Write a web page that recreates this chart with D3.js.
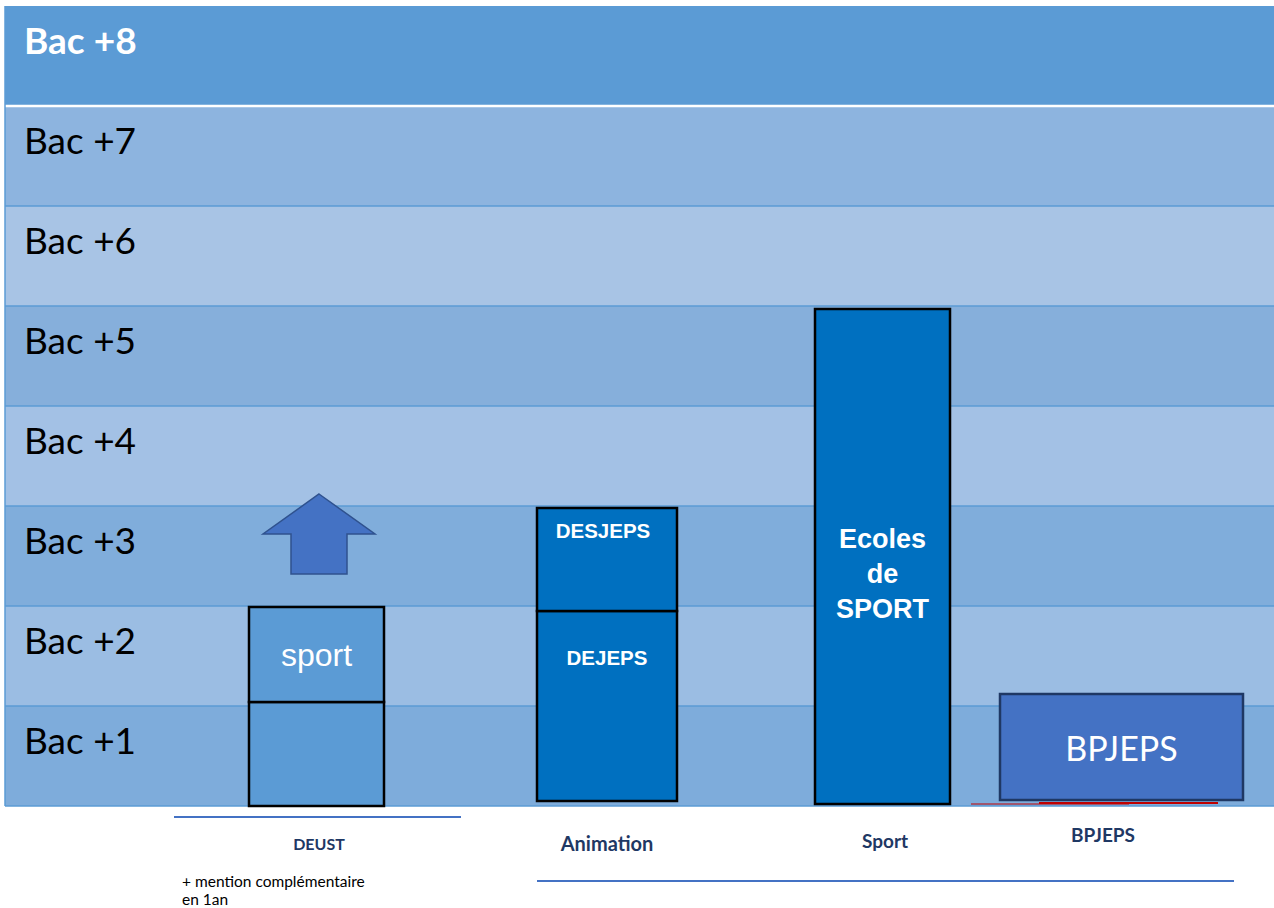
<!DOCTYPE html>
<html>
<head>
<meta charset="utf-8">
<script src="https://cdn.jsdelivr.net/npm/d3@7"></script>
<style>
  body { margin: 0; background: #fff; }
  svg { display: block; }
</style>
</head>
<body>
<svg id="chart" width="1274" height="908"></svg>
<script>
// levels shown as table rows, top to bottom
const levels = ['Bac +8', 'Bac +7', 'Bac +6', 'Bac +5', 'Bac +4', 'Bac +3', 'Bac +2', 'Bac +1']
const rowColors = ['#5b9bd5', '#8db4df', '#a8c4e5', '#86afdb', '#a3c1e5', '#80addb', '#9bbde3', '#7eacdb']

// blocks: [from level, to level, text]
const deustBlocks = [[0, 1.04, ''], [1.04, 1.99, 'sport']]
const animationBlocks = [[0.05, 1.95, 'DEJEPS'], [1.95, 2.98, 'DESJEPS']]
const sportBlocks = [[0.02, 4.97, 'Ecoles|de|SPORT']]
const bpjepsBlocks = [[0.06, 1.12, 'BPJEPS']]
const arrowLevels = [2.32, 3.12]

const categories = ['DEUST', 'Animation', 'Sport', 'BPJEPS']

const svg = d3.select('#chart')
const W = 1274

const y = d3.scaleLinear().domain([0, 8]).range([806, 6])

// ---- table background
const rows = svg.append('g')
levels.forEach(function (lab, i) {
  const lv = 8 - i
  rows.append('rect')
    .attr('x', 5)
    .attr('y', y(lv))
    .attr('width', W - 5)
    .attr('height', y(lv - 1) - y(lv))
    .attr('fill', rowColors[i])
  if (i > 0) {
    rows.append('line')
      .attr('x1', 5).attr('x2', W)
      .attr('y1', y(lv)).attr('y2', y(lv))
      .attr('stroke', i === 1 ? '#ffffff' : '#5b9bd5')
      .attr('stroke-width', i === 1 ? 2.5 : 1.5)
  }
  rows.append('text')
    .text(lab)
    .attr('x', 24)
    .attr('y', y(lv) + 48)
    .style('font-family', 'Lato, sans-serif')
    .style('font-size', '37px')
    .style('font-weight', i === 0 ? 'bold' : 'normal')
    .attr('fill', i === 0 ? '#ffffff' : '#000000')
})
rows.append('line')
  .attr('x1', 5).attr('x2', 5).attr('y1', y(8)).attr('y2', y(0))
  .attr('stroke', '#5b9bd5').attr('stroke-width', 1.5)
rows.append('line')
  .attr('x1', 5).attr('x2', W).attr('y1', y(0)).attr('y2', y(0))
  .attr('stroke', '#5b9bd5').attr('stroke-width', 1.5)

// ---- blocks
function drawBlocks (blocks, x0, x1, opt) {
  const g = svg.append('g')
  blocks.forEach(function (b) {
    g.append('rect')
      .attr('x', x0)
      .attr('y', y(b[1]))
      .attr('width', x1 - x0)
      .attr('height', y(b[0]) - y(b[1]))
      .attr('fill', opt.fill)
      .attr('stroke', opt.stroke)
      .attr('stroke-width', opt.sw)
  })
  blocks.forEach(function (b) {
    if (!b[2]) return
    const lines = b[2].split('|')
    const top = opt.textTop ? y(b[1]) + opt.textTop : (y(b[1]) + y(b[0])) / 2 + opt.dy
    lines.forEach(function (l, k) {
      g.append('text')
        .text(l)
        .attr('x', (x0 + x1) / 2 + (opt.dx || 0))
        .attr('y', top + k * opt.lh)
        .attr('text-anchor', 'middle')
        .style('font-family', opt.font)
        .style('font-size', opt.size + 'px')
        .style('font-weight', opt.weight)
        .attr('fill', '#ffffff')
    })
  })
}

const arial = 'Liberation Sans, Arial, sans-serif'
drawBlocks(deustBlocks, 249, 384, {fill: '#5b9bd5', stroke: '#000', sw: 2.5, font: arial, size: 32, weight: 'normal', dy: 11, lh: 0})
drawBlocks(animationBlocks.slice(0, 1), 537, 677, {fill: '#0070c0', stroke: '#000', sw: 2.5, font: arial, size: 20.5, weight: 'bold', textTop: 54, lh: 0, dx: 0})
drawBlocks(animationBlocks.slice(1), 537, 677, {fill: '#0070c0', stroke: '#000', sw: 2.5, font: arial, size: 20.5, weight: 'bold', textTop: 30, lh: 0, dx: -4})
drawBlocks(sportBlocks, 815, 950, {fill: '#0070c0', stroke: '#000', sw: 2.5, font: arial, size: 27, weight: 'bold', textTop: 239, lh: 35, dx: 0})
drawBlocks(bpjepsBlocks, 1000, 1243, {fill: '#4472c4', stroke: '#1f3864', sw: 2.5, font: 'Lato, sans-serif', size: 34, weight: 'normal', dy: 14, lh: 0, dx: 0})

// ---- arrow above DEUST
const ax = 319
const arrow = [
  [ax, arrowLevels[1]], [ax + 56, arrowLevels[1] - 0.4], [ax + 28, arrowLevels[1] - 0.4],
  [ax + 28, arrowLevels[0]], [ax - 28, arrowLevels[0]], [ax - 28, arrowLevels[1] - 0.4],
  [ax - 56, arrowLevels[1] - 0.4]
]
svg.append('path')
  .attr('d', d3.line().x(d => d[0]).y(d => y(d[1])).curve(d3.curveLinearClosed)(arrow))
  .attr('fill', '#4472c4')
  .attr('stroke', '#2f528f')
  .attr('stroke-width', 1.5)

// ---- red underline near BPJEPS
svg.append('line').attr('x1', 971).attr('x2', 1129).attr('y1', 804).attr('y2', 804)
  .attr('stroke', '#c00000').attr('stroke-width', 1)
svg.append('line').attr('x1', 1039).attr('x2', 1218).attr('y1', 803).attr('y2', 803)
  .attr('stroke', '#c00000').attr('stroke-width', 1.8)

// ---- labels under the table
const labelPos = [[319, 850], [607, 851], [885, 848], [1103, 842]]
const labelSize = [16, 20, 19, 19]
categories.forEach(function (c, i) {
  svg.append('text')
    .text(c)
    .attr('x', labelPos[i][0])
    .attr('y', labelPos[i][1])
    .attr('text-anchor', 'middle')
    .style('font-family', 'Lato, sans-serif')
    .style('font-size', labelSize[i] + 'px')
    .style('font-weight', 'bold')
    .attr('fill', '#1f3864')
})

svg.append('line').attr('x1', 174).attr('x2', 461).attr('y1', 817).attr('y2', 817)
  .attr('stroke', '#4472c4').attr('stroke-width', 1.8)
svg.append('line').attr('x1', 537).attr('x2', 1234).attr('y1', 881).attr('y2', 881)
  .attr('stroke', '#4472c4').attr('stroke-width', 1.8)

const note = ['+ mention complémentaire', 'en 1an']
note.forEach(function (t, k) {
  svg.append('text')
    .text(t)
    .attr('x', 182)
    .attr('y', 887 + k * 18)
    .style('font-family', 'Lato, sans-serif')
    .style('font-size', '15.5px')
    .attr('fill', '#000')
})
</script>
</body>
</html>
